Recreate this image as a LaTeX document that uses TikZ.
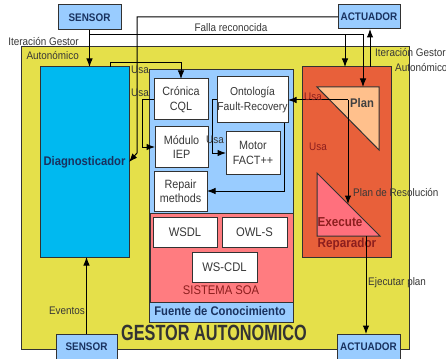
\documentclass[tikz,border=0pt]{standalone}
\usepackage{fontspec}
\setmainfont{Liberation Sans}[FakeStretch=0.9]
\newfontfamily\bigfnt{Liberation Sans}[FakeStretch=0.74]
\usetikzlibrary{arrows.meta,calc}
\definecolor{yel}{RGB}{229,224,74}
\definecolor{lblue}{RGB}{153,204,255}
\definecolor{cyanb}{RGB}{0,185,240}
\definecolor{redbox}{RGB}{232,96,58}
\definecolor{planc}{RGB}{255,192,140}
\definecolor{execc}{RGB}{255,112,125}
\definecolor{soac}{RGB}{255,124,128}
\definecolor{dred}{RGB}{140,30,30}
\definecolor{dblue}{RGB}{25,50,95}
\definecolor{edge}{RGB}{50,50,50}
\definecolor{txt}{RGB}{55,55,55}
\tikzset{
  bx/.style={draw=edge,line width=1pt,inner sep=0pt,outer sep=0pt,align=center},
  io/.style={bx,fill=lblue,text=dblue,font=\bfseries\fontsize{11}{12}\selectfont},
  wbox/.style={bx,fill=white,text=txt,font=\fontsize{12}{14.5}\selectfont},
  arr/.style={line width=1pt,-{Latex[length=8.5pt,width=6.5pt]}},
  ln/.style={line width=1pt},
  lbl/.style={text=txt,font=\fontsize{11}{12}\selectfont,inner sep=0pt},
  rlbl/.style={text=dred,font=\fontsize{11}{12}\selectfont,inner sep=0pt},
}
\begin{document}
\begin{tikzpicture}[x=1pt,y=-1pt]
\useasboundingbox (0,0) rectangle (446,358);
\fill[white] (0,0) rectangle (446,358);
% containers
\node[bx,fill=yel,minimum width=388,minimum height=302] (gestor) at (215,198) {};
\node[bx,fill=cyanb,minimum width=89,minimum height=190,text=dblue,font=\bfseries\fontsize{12.5}{14}\selectfont] (diag) at (84.5,162) {Diagnosticador};
\node[bx,fill=lblue,minimum width=144,minimum height=252] (fuente) at (221,196) {};
\node[bx,fill=redbox,minimum width=89,minimum height=190] (repa) at (346.5,162) {};
% IO boxes
\node[io,minimum width=63,minimum height=25] (sensorT) at (89.5,17.5) {SENSOR};
\node[io,minimum width=62,minimum height=24] (actT) at (369,17) {ACTUADOR};
\node[io,minimum width=61,minimum height=26] (sensorB) at (86.5,347) {SENSOR};
\node[io,minimum width=63,minimum height=26] (actB) at (368.5,347) {ACTUADOR};
% knowledge boxes
\node[wbox,minimum width=54,minimum height=41] (cron) at (181,99.5) {Crónica\\CQL};
\node[wbox,minimum width=71,minimum height=46,font=\fontsize{11.5}{14.5}\selectfont] (onto) at (252.5,100) {Ontología\\Fault-Recovery};
\node[wbox,minimum width=53,minimum height=40] (modulo) at (181.5,147) {Módulo\\IEP};
\node[wbox,minimum width=54,minimum height=42] (motor) at (253,153) {Motor\\FACT++};
\node[wbox,minimum width=53,minimum height=40] (repair) at (180.5,191) {Repair\\methods};
\node[bx,fill=soac,minimum width=143,minimum height=89] (soa) at (221.5,257.5) {};
\node[wbox,minimum width=64,minimum height=30,font=\fontsize{12.5}{14}\selectfont] (wsdl) at (185,232) {WSDL};
\node[wbox,minimum width=65,minimum height=30,font=\fontsize{12.5}{14}\selectfont] (owls) at (254.5,232) {OWL-S};
\node[wbox,minimum width=65,minimum height=30,font=\fontsize{12.5}{14}\selectfont] (wscdl) at (224.5,267) {WS-CDL};
\node[text=dred,inner sep=0pt,font=\fontsize{12.5}{14}\selectfont] (soalbl) at (221,290) {SISTEMA SOA};
\node[text=dblue,inner sep=0pt,font=\bfseries\fontsize{12.5}{14}\selectfont] (fuentelbl) at (220,311) {Fuente de Conocimiento};
% triangles
\coordinate (pA) at (317,87); \coordinate (pB) at (379,87); \coordinate (pC) at (379,150);
\coordinate (eA) at (317,173); \coordinate (eB) at (317,236); \coordinate (eC) at (380,236);
\draw[ln,draw=edge,fill=planc] (pA) -- (pB) -- (pC) -- cycle;
\draw[ln,draw=edge,fill=execc] (eA) -- (eB) -- (eC) -- cycle;
\node[inner sep=0pt,text=black!75,font=\bfseries\fontsize{12.5}{14}\selectfont] (planlbl) at (362,103) {Plan};
\node[inner sep=0pt,text=dred,font=\bfseries\fontsize{13}{14}\selectfont] (execlbl) at (340,222) {Execute};
\node[inner sep=0pt,text=dred,font=\bfseries\fontsize{13}{14}\selectfont] (reparlbl) at (347,244) {Reparador};
% connectors
\coordinate (j1) at (89.5,35);
\coordinate (planTop) at (363,87);
\coordinate (j2) at (345,35);
\draw[arr] (sensorT.south) -- (sensorT.south |- diag.north);
\draw[arr] (j1) -| (planTop);
\draw[arr] (j2) -- (j2 |- repa.north);
\coordinate (k1) at (137,153);
\draw[arr] (actT.west) -| (k1) -- (diag.east);
\coordinate (rUp) at (370,67);
\draw[arr] (rUp) -- (rUp |- actT.south);
\coordinate (d1) at (110,67);
\coordinate (d2) at (110,63);
\draw[arr] (d1) -- (d2) -| (cron.north);
\draw[arr] (cron.west) -- ++(-12,0) |- (modulo.west);
\coordinate (o1) at (212,100);
\draw[arr] (onto.west) -- (o1) |- (motor.west);
\draw[arr] ($(onto.south east)+(-4,0)$) |- (repair.east);
\coordinate (pj) at (348,100);
\coordinate (ej) at (348,204);
\draw[arr] (pj) -- (onto.east);
\draw[arr] (pj) -- (ej);
\coordinate (eb) at (366,236);
\draw[arr] (eb) -- (eb |- actB.north);
\draw[arr] (sensorB.north) -- (sensorB.north |- diag.south);
% labels
\node[lbl] (falla) at (231,28) {Falla reconocida};
\node[lbl,anchor=east] (itL1) at (79,42) {Iteración Gestor};
\node[lbl,anchor=east] (itL2) at (79,56) {Autonómico};
\node[lbl,anchor=west] (itR1) at (375,53) {Iteración Gestor};
\node[lbl,anchor=west] (itR2) at (395,68) {Autonómico};
\node[lbl] (usa1) at (140,70) {Usa};
\node[lbl] (usa2) at (140,93) {Usa};
\node[lbl] (usa3) at (215,140) {Usa};
\node[rlbl] (usa4) at (313,97) {Usa};
\node[rlbl] (usa5) at (318,147) {Usa};
\node[lbl,anchor=west] (planres) at (353,193) {Plan de Resolución};
\node[lbl,anchor=west] (ejec) at (368,283) {Ejecutar plan};
\node[lbl,anchor=east] (evt) at (85,311) {Eventos};
\node[inner sep=0pt,text=black!80,font=\bigfnt\bfseries\fontsize{22}{22}\selectfont] (title) at (214,333) {GESTOR AUTONOMICO};
\end{tikzpicture}
\end{document}
